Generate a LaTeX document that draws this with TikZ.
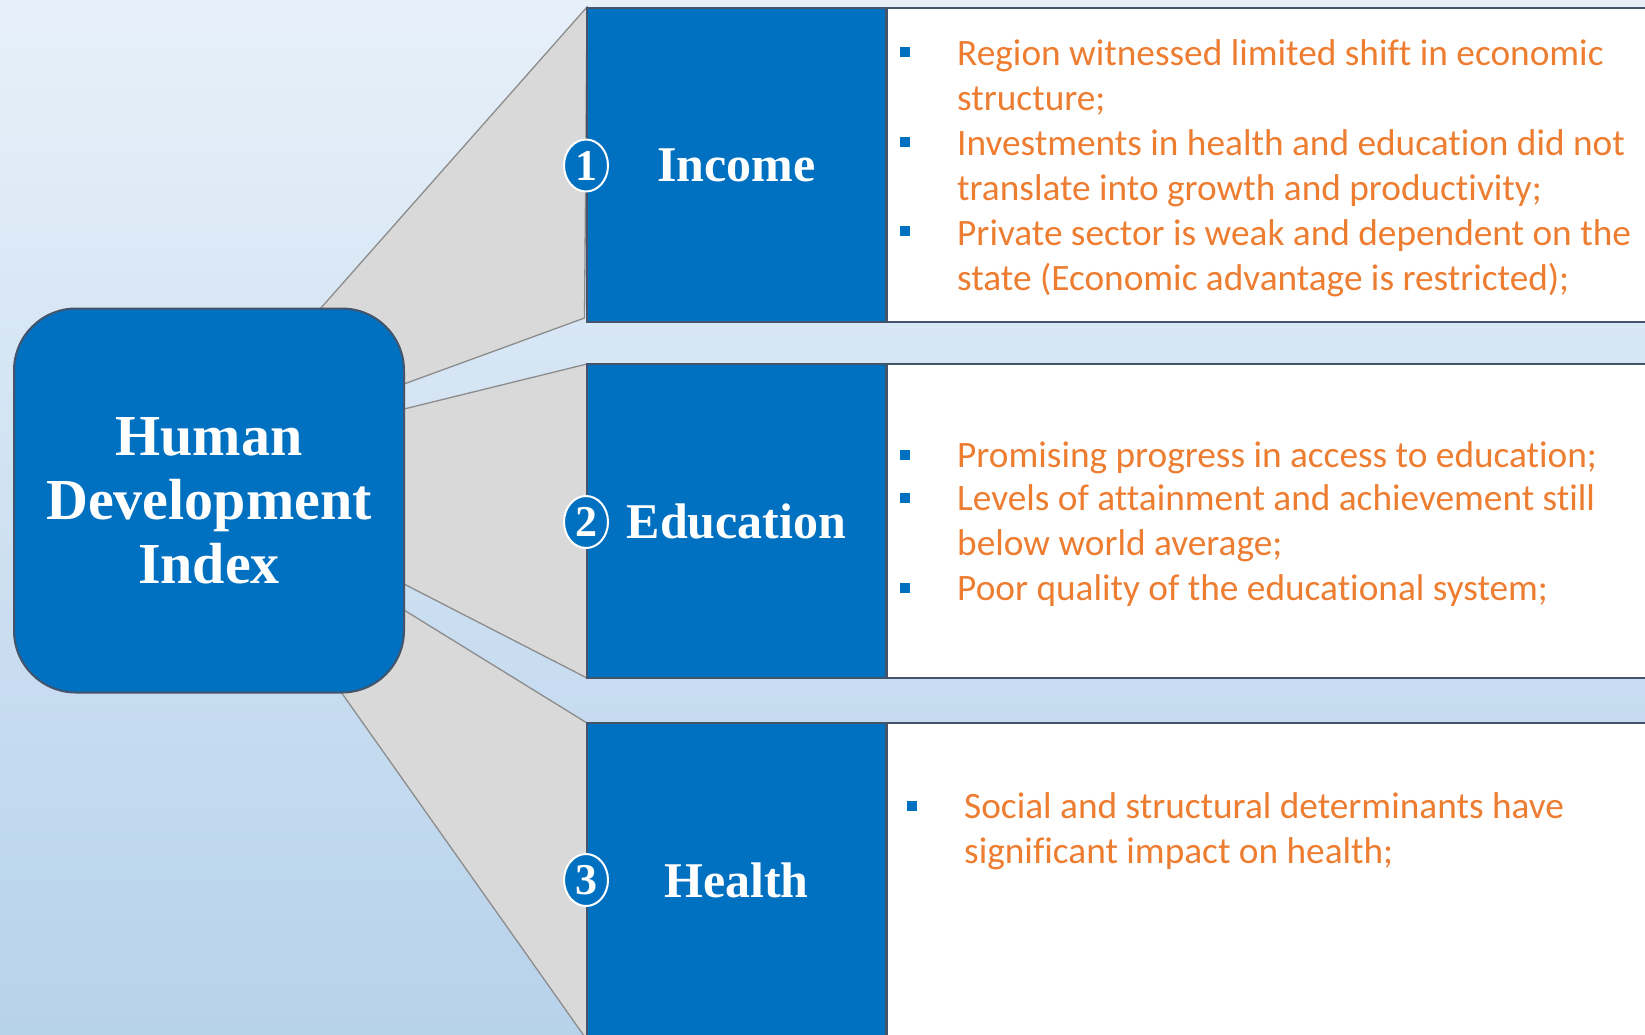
\documentclass[tikz,border=0pt]{standalone}
\usepackage{fontspec}
\setmainfont{Liberation Serif}
\newfontfamily\notefont[Ligatures=NoCommon]{Carlito}
\usetikzlibrary{shapes.geometric}
\definecolor{boxblue}{HTML}{0070C0}
\definecolor{edgeblue}{HTML}{44546A}
\definecolor{fangray}{HTML}{D9D9D9}
\definecolor{fanedge}{HTML}{8C8C8C}
\definecolor{noteorange}{HTML}{ED7D31}
\definecolor{bgtop}{HTML}{E7F0F9}
\definecolor{bgbottom}{HTML}{B7D2EB}
\pgfdeclarelayer{backdrop}
\pgfdeclarelayer{fans}
\pgfsetlayers{backdrop,fans,main}
\begin{document}
\begin{tikzpicture}[x=1pt,y=-1pt,
  fan/.style={fill=fangray,draw=fanedge,line width=1.3pt,line join=miter},
  hub/.style={draw=edgeblue,line width=2pt,fill=boxblue,rounded corners=62pt,
    minimum width=390pt,minimum height=384pt,inner sep=0pt,text=white,align=center,
    font=\bfseries\fontsize{58}{64}\selectfont},
  catbox/.style={draw=edgeblue,line width=1.5pt,fill=boxblue,minimum width=299pt,
    minimum height=314pt,inner sep=0pt,text=white,font=\bfseries\fontsize{50}{60}\selectfont},
  panel/.style={draw=edgeblue,line width=1.5pt,fill=white,minimum width=780pt,
    minimum height=314pt,anchor=west,inner sep=0pt},
  badge/.style={ellipse,fill=boxblue,draw=white,line width=2pt,minimum width=44pt,
    minimum height=52pt,inner sep=0pt,text=white,font=\bfseries\fontsize{44}{44}\selectfont},
  sq/.style={fill=boxblue,minimum size=10pt,inner sep=0pt},
  % notes are placed by the baseline of their last line
  note/.style={anchor=base west,inner sep=0pt,align=left,text=noteorange,
    font=\notefont\fontsize{37.3}{45}\selectfont}]
\useasboundingbox (0,0) rectangle (1645,1034);

% backdrop
\begin{pgfonlayer}{backdrop}
\shade[top color=bgtop,bottom color=bgbottom] (0,0) rectangle (1645,1034);
\end{pgfonlayer}

% text panels
\node[panel] (pinc) at (886,165) {};
\node[panel] (pedu) at (886,521) {};
\node[panel] (phea) at (886,880) {};

% category boxes
\node[catbox] (inc) at (736.5,165) {Income};
\node[catbox] (edu) at (736.5,521) {Education};
\node[catbox] (hea) at (736.5,880) {Health};

% hub
\node[hub] (hdi) at (209,500.5) {Human\\Development\\Index};

% fans from the hub to the category boxes
\begin{pgfonlayer}{fans}
\coordinate (f1a) at (320,309);
\coordinate (f1b) at (587,7);
\coordinate (f1c) at (584.5,318);
\coordinate (f1d) at (404,384);
\draw[fan] (f1a) -- (f1b) -- (f1c) -- (f1d) -- (340,400) -- cycle;
\coordinate (f2a) at (404,409);
\coordinate (f2b) at (587,364);
\coordinate (f2c) at (587,678);
\coordinate (f2d) at (404,584);
\draw[fan] (f2a) -- (f2b) -- (f2c) -- (f2d) -- (350,584) -- (350,409) -- cycle;
\coordinate (f3a) at (404,610);
\coordinate (f3b) at (587,723);
\coordinate (f3c) at (587,1040);
\coordinate (f3d) at (341,692);
\draw[fan] (f3a) -- (f3b) -- (f3c) -- (f3d) -- (350,620) -- cycle;
\end{pgfonlayer}

% number badges
\node[badge] (n1) at (586,165.5) {1};
\node[badge] (n2) at (586,522) {2};
\node[badge] (n3) at (586,880) {3};

% income notes
\node[sq] (b11) at (904.5,52) {};
\node[note] (t11) at (957,110) {Region witnessed limited shift in economic\\structure;};
\node[sq] (b12) at (904.5,142) {};
\node[note] (t12) at (957,200) {Investments in health and education did not\\translate into growth and productivity;};
\node[sq] (b13) at (904.5,231) {};
\node[note] (t13) at (957,290) {Private sector is weak and dependent on the\\state (Economic advantage is restricted);};

% education notes
\node[sq] (b21) at (904.5,455) {};
\node[note] (t21) at (957,467) {Promising progress in access to education;};
\node[sq] (b22) at (904.5,498) {};
\node[note] (t22) at (957,555) {Levels of attainment and achievement still\\below world average;};
\node[sq] (b23) at (904.5,588) {};
\node[note] (t23) at (957,600) {Poor quality of the educational system;};

% health notes
\node[sq] (b31) at (911.5,805.5) {};
\node[note] (t31) at (964,863) {Social and structural determinants have\\significant impact on health;};
\end{tikzpicture}
\end{document}
